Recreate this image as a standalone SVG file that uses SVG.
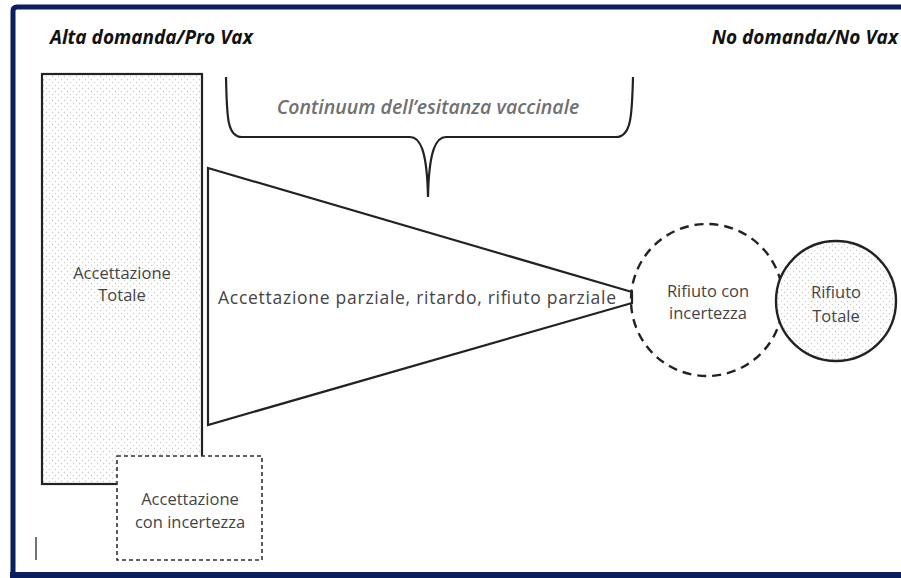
<svg xmlns="http://www.w3.org/2000/svg" width="901" height="578" viewBox="0 0 901 578">
  <defs>
    <pattern id="dots" width="6" height="6" patternUnits="userSpaceOnUse">
      <rect width="6" height="6" fill="#ffffff"/>
      <circle cx="1.5" cy="1.5" r="0.7" fill="#c8c8c8"/>
      <circle cx="4.5" cy="4.5" r="0.7" fill="#c8c8c8"/>
    </pattern>
    <style>
      .solid { fill: none; stroke: #222; stroke-width: 2.2; }
      .dash { fill: #fff; stroke: #333; stroke-width: 1.6; stroke-dasharray: 4 3; }
      .lbl { font-family: "Open Sans", "Liberation Sans", sans-serif; font-size: 16.5px; fill: #444; text-anchor: middle; }
      .wide { font-family: "Open Sans", "Liberation Sans", sans-serif; font-size: 17.5px; fill: #444; text-anchor: start; }
      .head { font-family: "Open Sans", "Liberation Sans", sans-serif; font-size: 19px; font-weight: bold; font-style: italic; fill: #111; }
    </style>
  </defs>

  <!-- page background and navy frame -->
  <rect width="901" height="578" fill="#ffffff"/>
  <path d="M13 578 V11 Q13 7 17 7 H901" fill="none" stroke="#0b1f5e" stroke-width="5"/>
  <rect x="10" y="572" width="891" height="6" fill="#0b1f5e"/>

  <!-- headings -->
  <text class="head" x="50" y="44">Alta domanda/Pro Vax</text>
  <text class="head" x="898" y="44" text-anchor="end">No domanda/No Vax</text>

  <!-- brace over the continuum -->
  <g id="continuum">
    <path class="solid" d="M226 77 C227 112 226 137 242 137 H410 C420 137 427 150 428 197 C429 150 436 137 446 137 H616 C632 137 632 112 633 77"/>
    <text x="428" y="114" font-family="'Open Sans', 'Liberation Sans', sans-serif" font-size="19.5" font-style="italic" font-weight="600" fill="#707070" text-anchor="middle">Continuum dell’esitanza vaccinale</text>
  </g>

  <!-- total acceptance block -->
  <g id="accettazione-totale">
    <rect x="42" y="74" width="160" height="410" fill="url(#dots)" stroke="#222" stroke-width="2.2"/>
    <text class="lbl" x="122" y="279">Accettazione</text>
    <text class="lbl" x="122" y="301">Totale</text>
  </g>

  <!-- acceptance with uncertainty -->
  <g id="accettazione-incertezza">
    <rect class="dash" x="117" y="456" width="145" height="104"/>
    <text class="lbl" x="190" y="505">Accettazione</text>
    <text class="lbl" x="190" y="528">con incertezza</text>
  </g>

  <!-- narrowing wedge -->
  <g id="accettazione-parziale">
    <path class="solid" d="M208 168 L632 292 V303 L208 425 Z" fill="#fff"/>
    <text class="wide" x="218" y="304" textLength="398" lengthAdjust="spacing">Accettazione parziale, ritardo, rifiuto parziale</text>
  </g>

  <!-- refusal with uncertainty -->
  <g id="rifiuto-incertezza">
    <circle cx="707" cy="300" r="76" fill="none" stroke="#222" stroke-width="2.4" stroke-dasharray="9 6"/>
    <text class="lbl" x="708" y="297">Rifiuto con</text>
    <text class="lbl" x="708" y="319">incertezza</text>
  </g>

  <!-- total refusal -->
  <g id="rifiuto-totale">
    <circle cx="836" cy="301" r="60" fill="url(#dots)" stroke="#222" stroke-width="2.4"/>
    <text class="lbl" x="836" y="298">Rifiuto</text>
    <text class="lbl" x="836" y="322">Totale</text>
  </g>

  <!-- small mark near the lower left corner -->
  <line x1="36" y1="537" x2="36" y2="560" stroke="#444" stroke-width="1.5"/>
</svg>
